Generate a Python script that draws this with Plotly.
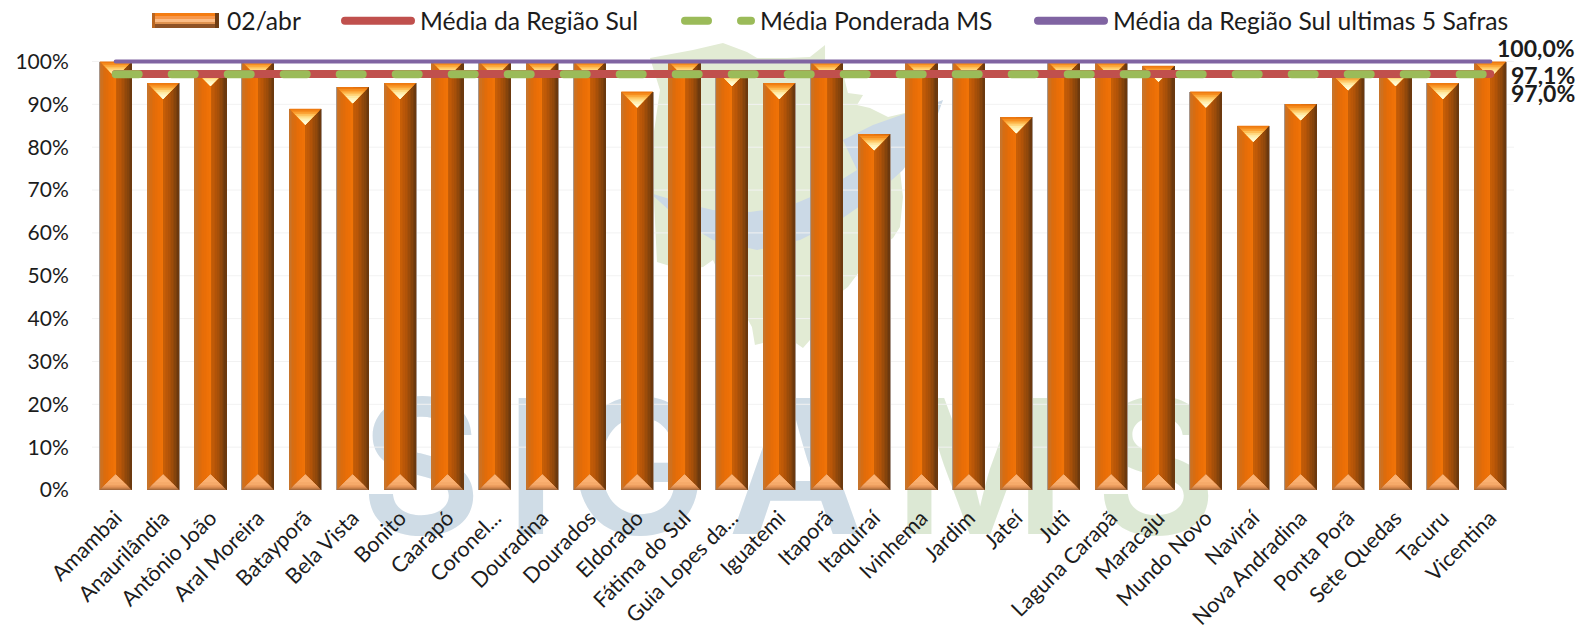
import plotly.graph_objects as go

# Chart data
municipios = ["Amambai", "Anaurilândia", "Antônio João", "Aral Moreira", "Batayporã", "Bela Vista",
              "Bonito", "Caarapó", "Coronel...", "Douradina", "Dourados", "Eldorado", "Fátima do Sul",
              "Guia Lopes da...", "Iguatemi", "Itaporã", "Itaquiraí", "Ivinhema", "Jardim", "Jateí",
              "Juti", "Laguna Carapã", "Maracaju", "Mundo Novo", "Naviraí", "Nova Andradina",
              "Ponta Porã", "Sete Quedas", "Tacuru", "Vicentina"]
colheita_02abr = [100, 95, 98, 100, 89, 94, 95, 100, 100, 100, 100, 93, 100, 98, 95, 100, 83, 100,
                  100, 87, 100, 100, 99, 93, 85, 90, 97, 98, 95, 100]
media_regiao_sul = [97.1] * len(municipios)
media_ponderada_ms = [97.0] * len(municipios)
media_sul_5_safras = [100.0] * len(municipios)
y_ticks = [0, 10, 20, 30, 40, 50, 60, 70, 80, 90, 100]
y_tick_labels = ["0%", "10%", "20%", "30%", "40%", "50%", "60%", "70%", "80%", "90%", "100%"]

W, H = 1583, 630
M_L, M_R, M_B = 92, 69, 140
ZERO_PX = H - M_B
UNIT_PX = 4.285             # pixels per percentage point
Y_MAX = 100.7               # headroom so the 100% line is not cut at the plot edge
M_T = round(ZERO_PX - Y_MAX * UNIT_PX)
Y_MAX = (ZERO_PX - M_T) / UNIT_PX
PW, PH = W - M_L - M_R, H - M_T - M_B
FONT = "Lato"
INK = "#1c1c1c"


def px_x(px):
    return (px - M_L) / PW * len(municipios) - 0.5


def px_y(py):
    return (ZERO_PX - py) / UNIT_PX


def paper_x(px):
    return (px - M_L) / PW


def paper_y(py):
    return (ZERO_PX - py) / PH


def mix(a, b, t):
    ca = [int(a[i:i + 2], 16) for i in (1, 3, 5)]
    cb = [int(b[i:i + 2], 16) for i in (1, 3, 5)]
    return "rgb(%d,%d,%d)" % tuple(round(p + (q - p) * t) for p, q in zip(ca, cb))


def ramp(stops, n):
    out = []
    for k in range(n):
        t = k / max(n - 1, 1) * (len(stops) - 1)
        i = min(int(t), len(stops) - 2)
        out.append(mix(stops[i], stops[i + 1], t - i))
    return out


def outline(points):
    coords = ["%s%.4f,%.4f" % ("M" if i == 0 else "L", paper_x(x), paper_y(y)) for i, (x, y) in enumerate(points)]
    return " ".join(coords) + " Z"


xs = list(range(len(municipios)))
fig = go.Figure()

# Faded logotype behind the plot
fig.add_trace(go.Scatter(
    x=[px_x(p) for p in (421, 531, 638, 796, 980, 1156)],
    y=[px_y(487)] * 6,
    text=list("SIGAMS"), mode="text", textposition="middle center", cliponaxis=False,
    textfont=dict(family="Inter", size=187, weight=600,
                  color=["#CFDCE6"] * 4 + ["#DCE8D4"] * 2),
    hoverinfo="skip", showlegend=False, zorder=-3))

# Horizontal guides sit over the logotype
grid_x, grid_y = [], []
for v in y_ticks[1:]:
    grid_x += [-0.5, len(municipios) - 0.5, None]
    grid_y += [v, v, None]
fig.add_trace(go.Scatter(x=grid_x, y=grid_y, mode="lines", line=dict(color="#F2F2F2", width=1),
                         hoverinfo="skip", showlegend=False, zorder=-2, cliponaxis=False))

# Bevelled columns: overlaid bars narrowing to the right build the side shading
HALF = 0.348
INNER = 0.338
fig.add_trace(go.Bar(x=xs, y=colheita_02abr, name="02/abr", width=2 * HALF, offset=-HALF,
                     marker=dict(color="#A8968A", line_width=0), showlegend=False))
left_side = ramp(["#C8742A", "#D86C10", "#E46C08", "#EC6F06", "#F07307"], 10)
right_side = ramp(["#C65E07", "#B85608", "#A24E09", "#88450C", "#6C390E"], 10)
shades = left_side + right_side
for k, colour in enumerate(shades):
    left = -INNER + 2 * INNER * k / len(shades)
    fig.add_trace(go.Bar(x=xs, y=colheita_02abr, width=INNER - left, offset=left,
                         marker=dict(color=colour, line_width=0), hoverinfo="skip", showlegend=False))

# Top facet of each column, light towards the tip
TOP_DEPTH = 16 / UNIT_PX
top_colours = ramp(["#EE7A10", "#FA9A28", "#FFC45E", "#FFE79C", "#FFF6C4", "#FFFDE0"], 9)
for k, colour in enumerate(top_colours):
    t = k / len(top_colours)
    tx, ty = [], []
    for x, v in zip(xs, colheita_02abr):
        w = INNER * (1 - t)
        tx += [x - w, x + w, x, x - w, None]
        ty += [v - TOP_DEPTH * t, v - TOP_DEPTH * t, v - TOP_DEPTH, v - TOP_DEPTH * t, None]
    fig.add_trace(go.Scatter(x=tx, y=ty, mode="none", fill="toself", fillcolor=colour,
                             hoverinfo="skip", showlegend=False, zorder=1))

# Bottom facet of each column
BASE_DEPTH = 15.5 / UNIT_PX
base_colours = ["#A66A3E", "#C27C45", "#DE8E54", "#EE9F60", "#F6AA6A", "#FBB172"]
base_steps = [0, 0.07, 0.14, 0.22, 0.32, 0.5]
for t, colour in zip(base_steps, base_colours):
    tx, ty = [], []
    for x in xs:
        w = INNER * (1 - t)
        tx += [x - w, x + w, x, x - w, None]
        ty += [BASE_DEPTH * t, BASE_DEPTH * t, BASE_DEPTH, BASE_DEPTH * t, None]
    fig.add_trace(go.Scatter(x=tx, y=ty, mode="none", fill="toself", fillcolor=colour,
                             hoverinfo="skip", showlegend=False, zorder=1))

# Reference averages
fig.add_trace(go.Scatter(x=xs, y=media_regiao_sul, mode="lines", name="Média da Região Sul",
                         line=dict(color="#C0504D", width=8), cliponaxis=False, showlegend=False, zorder=2))
fig.add_trace(go.Scatter(x=xs, y=media_ponderada_ms, mode="lines", name="Média Ponderada MS",
                         line=dict(color="#9BBB59", width=8, dash="23px,33px"), cliponaxis=False,
                         showlegend=False, zorder=3))
fig.add_trace(go.Scatter(x=xs, y=media_sul_5_safras, mode="lines", name="Média da Região Sul ultimas 5 Safras",
                         line=dict(color="#8064A2", width=4), cliponaxis=False, showlegend=False, zorder=4))

# Value labels at the end of each average line
end_labels = [(media_sul_5_safras[-1], 14), (media_regiao_sul[-1], -1), (media_ponderada_ms[-1], -19)]
annotations = []
for value, shift in end_labels:
    annotations.append(dict(x=xs[-1], y=value, xref="x", yref="y", xanchor="right", yanchor="middle",
                            xshift=1577 - (M_L + PW * (xs[-1] + 0.5) / len(xs)), yshift=shift, showarrow=False,
                            text=("%.1f%%" % value).replace(".", ","),
                            font=dict(family=FONT, size=23, color=INK, weight="bold")))

# Legend row
for label, left in [("02/abr", 227), ("Média da Região Sul", 420), ("Média Ponderada MS", 760),
                    ("Média da Região Sul ultimas 5 Safras", 1113)]:
    annotations.append(dict(x=paper_x(left), y=paper_y(20), xref="paper", yref="paper", xanchor="left",
                            yanchor="middle", showarrow=False, text=label, xshift=-2,
                            font=dict(family=FONT, size=24.7, color=INK)))

shapes = []
# State outline and river swoosh of the logo
state_map = [(693, 50), (723, 43), (747, 52), (757, 58), (787, 58), (810, 57), (825, 45), (825, 62), (843, 73),
             (848, 93), (863, 95), (857, 105), (870, 108), (888, 117), (905, 113), (900, 170), (903, 197),
             (900, 227), (893, 238), (873, 253), (848, 287), (817, 310), (810, 340), (803, 348), (787, 337),
             (755, 345), (752, 327), (737, 300), (723, 283), (713, 260), (703, 267), (683, 270), (657, 262),
             (654, 200), (648, 170), (655, 125), (660, 90), (650, 58)]
swoosh = [(650, 193), (680, 220), (713, 240), (757, 250), (800, 240), (840, 220), (873, 197), (903, 170),
          (933, 127), (943, 100), (907, 113), (873, 125), (843, 140), (857, 170), (820, 193), (787, 207),
          (750, 212), (713, 210), (683, 203)]
shapes.append(dict(type="path", xref="paper", yref="paper", path=outline(state_map),
                   fillcolor="#E2EBD4", line_width=0, layer="below"))
shapes.append(dict(type="path", xref="paper", yref="paper", path=outline(swoosh),
                   fillcolor="#CBD9E6", line_width=0, layer="below"))


def legend_rect(x0, x1, y0, y1, colour):
    shapes.append(dict(type="rect", xref="paper", yref="paper", x0=paper_x(x0), x1=paper_x(x1),
                       y0=paper_y(y1), y1=paper_y(y0), fillcolor=colour, line_width=0))


def legend_line(x0, x1, colour):
    shapes.append(dict(type="line", xref="paper", yref="paper", x0=paper_x(x0), x1=paper_x(x1),
                       y0=paper_y(20.7), y1=paper_y(20.7), line=dict(color=colour, width=8)))


for y0, y1, colour in [(13, 16, "#F47C12"), (16, 19, "#F8974A"), (19, 22, "#FBBB84"), (22, 24, "#E0924F"),
                       (24, 28, "#8F5225")]:
    legend_rect(152, 219, y0, y1, colour)
legend_rect(152, 155, 13, 28, "#B9651F")
legend_rect(215, 219, 13, 28, "#6F3C12")
legend_line(345, 411, "#C0504D")
legend_line(685, 708, "#9BBB59")
legend_line(741, 751, "#9BBB59")
legend_line(1038, 1104, "#8064A2")

fig.update_layout(
    width=W, height=H, margin=dict(l=M_L, r=M_R, t=M_T, b=M_B, autoexpand=False),
    barmode="overlay", bargap=0, paper_bgcolor="white", plot_bgcolor="rgba(0,0,0,0)",
    showlegend=False, annotations=annotations, shapes=shapes,
    xaxis=dict(range=[-0.5, len(municipios) - 0.5], tickmode="array", tickvals=xs, ticktext=municipios,
               tickangle=-45, tickfont=dict(family=FONT, size=21.5, color=INK), showgrid=False,
               zeroline=False, showline=True, linecolor="#D9D9D9", linewidth=2,
               ticks="outside", ticklen=5, tickcolor="rgba(0,0,0,0)"),
    yaxis=dict(range=[0, Y_MAX], tickmode="array", tickvals=y_ticks, ticktext=y_tick_labels, showgrid=False,
               tickfont=dict(family=FONT, size=21, color=INK), zeroline=False, showline=False,
               ticks="outside", ticklen=18, tickcolor="rgba(0,0,0,0)"),
)

# Round line ends for the average lines and their legend keys
round_caps = """
(function () {
  function roundEnds() {
    document.querySelectorAll('.js-line, .shapelayer path').forEach(function (el) {
      el.style.strokeLinecap = 'round';
    });
  }
  roundEnds();
  setTimeout(roundEnds, 50);
  setTimeout(roundEnds, 300);
})();
"""
fig.write_html("out.html", post_script=round_caps, config=dict(displayModeBar=False))
